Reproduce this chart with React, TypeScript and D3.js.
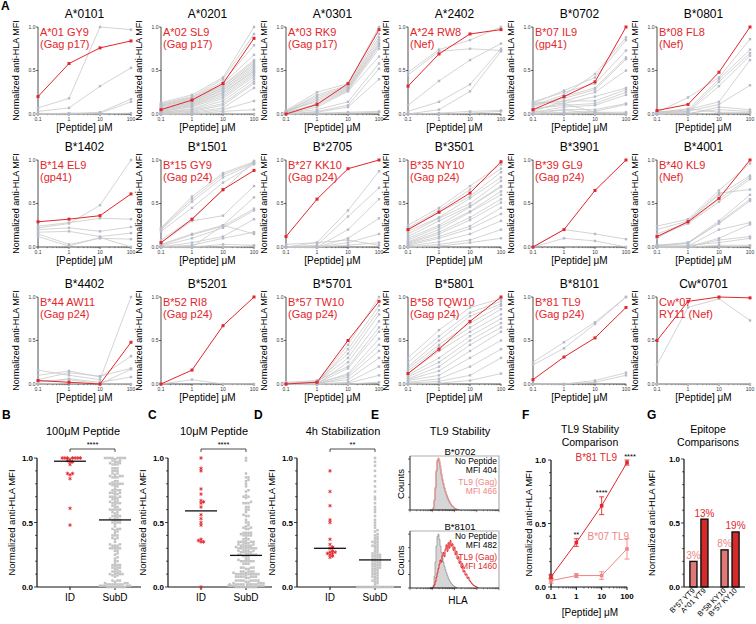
import React from "react";
import * as d3 from "d3";

const FONT = "'Liberation Sans', Arial, Helvetica, sans-serif";
const RED = "#e3262b";
const SALMON = "#ef8585";
const GRAY_LINE = "#c9c9c9";
const GRAY_PT = "#b5bac9";

// ---------- Panel A data ----------
const CONC = [0.1, 1, 10, 100];
const alleles = ["A*0101", "A*0201", "A*0301", "A*2402", "B*0702", "B*0801",
  "B*1402", "B*1501", "B*2705", "B*3501", "B*3901", "B*4001",
  "B*4402", "B*5201", "B*5701", "B*5801", "B*8101", "Cw*0701"];
const epitopeLine1 = ["A*01 GY9", "A*02 SL9", "A*03 RK9", "A*24 RW8", "B*07 IL9", "B*08 FL8",
  "B*14 EL9", "B*15 GY9", "B*27 KK10", "B*35 NY10", "B*39 GL9", "B*40 KL9",
  "B*44 AW11", "B*52 RI8", "B*57 TW10", "B*58 TQW10", "B*81 TL9", "Cw*07"];
const epitopeLine2 = ["(Gag p17)", "(Gag p17)", "(Gag p17)", "(Nef)", "(gp41)", "(Nef)",
  "(gp41)", "(Gag p24)", "(Gag p24)", "(Gag p24)", "(Gag p24)", "(Nef)",
  "(Gag p24)", "(Gag p24)", "(Gag p24)", "(Gag p24)", "(Gag p24)", "RY11 (Nef)"];
const redSeries = [
  [0.20, 0.58, 0.76, 0.84],
  [0.05, 0.16, 0.35, 0.87],
  [0.00, 0.11, 0.35, 0.97],
  [0.32, 0.69, 0.92, 0.97],
  [0.05, 0.20, 0.37, 1.00],
  [0.04, 0.11, 0.48, 1.00],
  [0.29, 0.32, 0.36, 0.61],
  [0.05, 0.32, 0.66, 0.88],
  [0.12, 0.55, 0.90, 1.00],
  [0.20, 0.40, 0.62, 0.98],
  [0.00, 0.20, 0.65, 1.00],
  [0.12, 0.29, 0.56, 1.00],
  [0.04, 0.02, 0.00, 0.48],
  [0.00, 0.16, 0.67, 1.00],
  [0.00, 0.02, 0.50, 0.95],
  [0.12, 0.40, 0.72, 1.00],
  [0.05, 0.31, 0.53, 0.88],
  [0.50, 0.95, 1.00, 0.99],
];
const graySeries: number[][][] = [
  [[0.07, 0.18, 1.0, 0.97], [0.03, 0.07, 0.32, 0.53], [0.0, 0.0, 0.02, 0.17], [0.0, 0.01, 0.01, 0.14], [0.0, 0.0, 0.0, 0.01]],
  [[0.13, 0.22, 0.42, 1.0], [0.12, 0.2, 0.4, 0.92], [0.11, 0.19, 0.37, 0.79], [0.1, 0.18, 0.35, 0.68], [0.1, 0.17, 0.33, 0.62],
   [0.09, 0.16, 0.32, 0.6], [0.08, 0.15, 0.3, 0.58], [0.07, 0.14, 0.3, 0.56], [0.06, 0.13, 0.28, 0.54], [0.05, 0.12, 0.27, 0.52],
   [0.05, 0.11, 0.25, 0.5], [0.04, 0.1, 0.24, 0.49], [0.03, 0.09, 0.22, 0.47], [0.03, 0.08, 0.2, 0.45], [0.02, 0.06, 0.18, 0.43],
   [0.02, 0.05, 0.15, 0.4], [0.01, 0.04, 0.12, 0.37], [0.01, 0.03, 0.1, 0.35], [0.0, 0.02, 0.07, 0.3], [0.0, 0.01, 0.05, 0.15],
   [0.0, 0.0, 0.03, 0.05], [0.0, 0.0, 0.01, 0.0]],
  [[0.04, 0.25, 0.35, 1.0], [0.03, 0.22, 0.33, 0.92], [0.03, 0.2, 0.32, 0.88], [0.02, 0.18, 0.31, 0.85], [0.02, 0.16, 0.3, 0.82],
   [0.04, 0.14, 0.29, 0.8], [0.01, 0.12, 0.28, 0.78], [0.02, 0.1, 0.27, 0.75], [0.0, 0.08, 0.26, 0.66], [0.01, 0.05, 0.14, 0.58],
   [0.0, 0.03, 0.1, 0.52], [0.0, 0.02, 0.08, 0.4], [0.0, 0.01, 0.02, 0.03], [0.0, 0.0, 0.01, 0.02]],
  [[0.48, 0.74, 0.85, 1.0], [0.45, 0.72, 0.75, 0.73], [0.1, 0.38, 0.62, 0.81], [0.03, 0.14, 0.34, 0.75], [0.0, 0.05, 0.26, 0.72],
   [0.0, 0.01, 0.03, 0.04], [0.0, 0.0, 0.01, 0.03]],
  [[0.1, 0.22, 0.46, 0.88], [0.12, 0.27, 0.42, 0.85], [0.14, 0.25, 0.35, 0.73], [0.08, 0.2, 0.3, 0.65], [0.1, 0.18, 0.28, 0.63],
   [0.12, 0.15, 0.25, 0.5], [0.05, 0.12, 0.2, 0.3], [0.03, 0.15, 0.15, 0.28], [0.06, 0.1, 0.12, 0.25], [0.02, 0.08, 0.1, 0.22],
   [0.0, 0.05, 0.05, 0.12], [0.01, 0.02, 0.03, 0.11], [0.0, 0.01, 0.02, 0.02], [0.0, 0.0, 0.01, 0.01], [0.14, 0.12, 0.02, 0.0],
   [0.02, 0.05, 0.0, 0.0]],
  [[0.02, 0.19, 0.42, 0.86], [0.02, 0.05, 0.4, 0.74], [0.01, 0.03, 0.37, 0.7], [0.0, 0.02, 0.32, 0.67], [0.01, 0.05, 0.14, 0.62],
   [0.02, 0.03, 0.11, 0.33], [0.03, 0.0, 0.08, 0.05], [0.0, 0.01, 0.05, 0.03], [0.02, 0.06, 0.02, 0.02], [0.0, 0.0, 0.01, 0.01]],
  [[0.22, 0.27, 0.48, 1.0], [0.24, 0.28, 0.33, 0.32], [0.2, 0.22, 0.18, 0.23], [0.17, 0.18, 0.12, 0.16], [0.15, 0.03, 0.1, 0.09],
   [0.12, 0.01, 0.11, 0.0]],
  [[0.22, 0.58, 0.85, 0.98], [0.21, 0.55, 0.83, 0.97], [0.2, 0.52, 0.8, 0.96], [0.18, 0.45, 0.74, 0.95], [0.08, 0.32, 0.65, 0.99],
   [0.05, 0.3, 0.36, 0.7], [0.03, 0.15, 0.25, 0.57], [0.02, 0.14, 0.24, 0.44], [0.01, 0.1, 0.22, 0.42], [0.0, 0.05, 0.12, 0.32],
   [0.0, 0.02, 0.1, 0.17], [0.01, 0.0, 0.25, 0.15], [0.0, 0.0, 0.03, 0.02], [0.0, 0.0, 0.0, 0.01]],
  [[0.0, 0.05, 0.42, 0.87], [0.0, 0.02, 0.35, 0.68], [0.0, 0.0, 0.2, 0.55], [0.0, 0.0, 0.1, 0.33], [0.0, 0.0, 0.05, 0.15],
   [0.0, 0.0, 0.02, 0.05], [0.03, 0.05, 0.08, 0.02]],
  [[0.25, 0.45, 0.7, 0.95], [0.22, 0.42, 0.66, 0.9], [0.2, 0.4, 0.58, 0.86], [0.18, 0.34, 0.56, 0.8], [0.15, 0.33, 0.5, 0.76],
   [0.12, 0.3, 0.47, 0.7], [0.1, 0.25, 0.46, 0.69], [0.08, 0.23, 0.41, 0.64], [0.06, 0.2, 0.4, 0.6], [0.05, 0.17, 0.34, 0.55],
   [0.04, 0.15, 0.31, 0.51], [0.03, 0.12, 0.24, 0.45], [0.02, 0.1, 0.21, 0.38], [0.01, 0.06, 0.15, 0.3], [0.0, 0.03, 0.08, 0.2],
   [0.0, 0.01, 0.05, 0.1]],
  [[0.0, 0.2, 0.15, 0.09], [0.0, 0.1, 0.07, 0.0]],
  [[0.24, 0.32, 0.65, 0.96], [0.2, 0.3, 0.6, 0.82], [0.15, 0.28, 0.55, 0.8], [0.12, 0.27, 0.52, 0.78], [0.1, 0.3, 0.62, 0.66],
   [0.02, 0.05, 0.3, 0.6], [0.02, 0.04, 0.28, 0.55], [0.01, 0.05, 0.27, 0.53], [0.0, 0.01, 0.2, 0.28], [0.0, 0.0, 0.1, 0.26],
   [0.0, 0.0, 0.08, 0.12], [0.02, 0.02, 0.05, 0.1], [0.0, 0.0, 0.02, 0.02], [0.0, 0.0, 0.0, 0.01]],
  [[0.16, 0.1, 0.05, 1.0], [0.1, 0.15, 0.08, 0.32], [0.05, 0.13, 0.09, 0.18], [0.03, 0.05, 0.0, 0.17], [0.02, 0.06, 0.02, 0.08],
   [0.0, 0.01, 0.0, 0.0]],
  [[0.0, 0.05, 0.0, 0.0]],
  [[0.0, 0.02, 0.45, 1.0], [0.0, 0.01, 0.4, 0.9], [0.01, 0.03, 0.35, 0.85], [0.0, 0.02, 0.3, 0.8], [0.0, 0.0, 0.25, 0.72],
   [0.02, 0.04, 0.2, 0.65], [0.0, 0.01, 0.18, 0.6], [0.0, 0.0, 0.12, 0.52], [0.01, 0.02, 0.1, 0.45], [0.0, 0.0, 0.08, 0.38],
   [0.0, 0.01, 0.05, 0.3], [0.0, 0.0, 0.02, 0.2], [0.0, 0.0, 0.01, 0.1], [0.0, 0.0, 0.0, 0.02]],
  [[0.3, 0.62, 0.88, 0.98], [0.25, 0.55, 0.82, 0.95], [0.2, 0.5, 0.78, 0.92], [0.18, 0.45, 0.7, 0.9], [0.15, 0.42, 0.65, 0.86],
   [0.12, 0.38, 0.6, 0.8], [0.1, 0.3, 0.55, 0.75], [0.08, 0.25, 0.5, 0.7], [0.06, 0.2, 0.45, 0.65], [0.05, 0.15, 0.38, 0.6],
   [0.04, 0.1, 0.3, 0.5], [0.02, 0.06, 0.2, 0.4], [0.01, 0.03, 0.1, 0.3], [0.0, 0.01, 0.04, 0.12]],
  [[0.25, 0.48, 0.71, 1.0], [0.22, 0.41, 0.69, 1.0], [0.0, 0.0, 0.04, 0.13], [0.0, 0.0, 0.02, 0.1]],
  [[0.22, 0.88, 0.98, 0.73], [0.0, 0.0, 0.0, 0.0]],
];

// ---------- Panel D data ----------
const stabID = [0.9, 0.74, 0.63, 0.52, 0.5, 0.37, 0.33, 0.31, 0.3, 0.28, 0.27, 0.27, 0.26, 0.26, 0.25, 0.24, 0.23];
const stabSubD = [
  0, 0, 0, 0, 0, 0, 0, 0, 0, 0, 0, 0, 0, 0, 0, 0, 0, 0,
  0.02, 0.03, 0.04, 0.05, 0.05, 0.06, 0.07, 0.08, 0.08, 0.09, 0.1, 0.1,
  0.11, 0.12, 0.12, 0.13, 0.14, 0.14, 0.15, 0.15, 0.16, 0.16, 0.17, 0.17, 0.18, 0.18, 0.19, 0.19, 0.2, 0.2,
  0.21, 0.21, 0.22, 0.22, 0.23, 0.23, 0.24, 0.24, 0.25, 0.25, 0.26, 0.26, 0.27, 0.28, 0.29, 0.3,
  0.31, 0.32, 0.32, 0.33, 0.34, 0.35, 0.35, 0.36, 0.37, 0.38, 0.39, 0.4,
  0.41, 0.43, 0.44, 0.46, 0.48, 0.5, 0.52, 0.55, 0.58, 0.6,
  0.62, 0.65, 0.68, 0.7, 0.74, 0.78, 0.82, 0.86, 0.9, 0.94, 0.97, 1.0];

// ---------- Panel E data (histogram counts per bin) ----------
const histNo0702 = [0, 0, 0, 5, 20, 45, 75, 95, 100, 92, 80, 68, 58, 50, 42, 35, 29, 24, 19, 15, 12, 9, 7, 5, 3, 2, 1, 0];
const histTL0702 = [0, 0, 0, 4, 18, 42, 78, 98, 102, 97, 86, 72, 61, 52, 44, 37, 31, 26, 21, 17, 13, 10, 8, 6, 4, 3, 2, 1, 1, 0];
const histNo8101 = [0, 0, 0, 5, 22, 48, 78, 96, 100, 90, 78, 66, 56, 48, 40, 34, 28, 23, 18, 14, 11, 8, 6, 4, 3, 2, 1, 0];
const histTL8101 = [0, 0, 0, 2, 6, 12, 20, 28, 36, 44, 52, 48, 60, 66, 58, 72, 80, 68, 84, 74, 88, 78, 82, 70, 76, 62, 68, 54, 58, 46,
  50, 38, 40, 30, 32, 24, 26, 18, 20, 14, 12, 9, 7, 5, 4, 3, 2, 1, 0];

// ---------- Panel F data ----------
const f81Mean = [0.08, 0.35, 0.64, 0.98];
const f81Err = [0.015, 0.03, 0.07, 0.02];
const f07Mean = [0.05, 0.09, 0.09, 0.30];
const f07Err = [0.02, 0.015, 0.03, 0.08];
const fSig = ["", "**", "****", "****"];

// ---------- Panel G data ----------
const gLabels = ["B*57 YT9", "A*01 YT9", "B*58 KY10", "B*57 KY10"];
const gGroups = ["YT9", "YT9", "KY10", "KY10"];
const gValues = [0.2, 0.53, 0.29, 0.43];
const gPct = ["3%", "13%", "8%", "19%"];
const gKind = [0, 1, 0, 1];

// ---------- layout ----------
const COL_X = [38, 161, 286, 408, 533, 657];
const ROW_Y = [27, 160, 297];
const PW = 93, PH = 87;
const MINOR_LOG: number[] = [];
[0.1, 1, 10].forEach((d) => { for (let m = 2; m <= 9; m++) MINOR_LOG.push(d * m); });

function Mini({ i }: { i: number }) {
  const col = i % 6, row = Math.floor(i / 6);
  const x0 = COL_X[col], y0 = ROW_Y[row];
  const x = d3.scaleLog().domain([0.1, 100]).range([x0, x0 + PW]);
  const y = d3.scaleLinear().domain([0, 1]).range([y0 + PH, y0]);
  const line = d3.line<number>().x((_, k) => x(CONC[k])).y((v) => y(v));
  const yb = y0 + PH;
  return (
    <g>
      <text x={x0 + PW / 2} y={y0 - 9} textAnchor="middle" fontSize={12}>{alleles[i]}</text>
      <text transform={`translate(${x0 - 19},${y0 + PH / 2}) rotate(-90)`} textAnchor="middle" fontSize={9}>Normalized anti-HLA MFI</text>
      <text x={x0 + PW / 2} y={yb + 17} textAnchor="middle" fontSize={10}>[Peptide] μM</text>
      <line x1={x0} x2={x0} y1={y0} y2={yb} stroke="#222" strokeWidth={0.8} />
      <line x1={x0} x2={x0 + PW} y1={yb} y2={yb} stroke="#222" strokeWidth={0.8} />
      {[0, 0.5, 1].map((t) => (
        <g key={t}>
          <line x1={x0 - 2} x2={x0} y1={y(t)} y2={y(t)} stroke="#222" strokeWidth={0.7} />
          <text x={x0 - 2.5} y={y(t) + 1.7} textAnchor="end" fontSize={5} fill="#333">{t.toFixed(1)}</text>
        </g>
      ))}
      {CONC.map((c) => (
        <g key={c}>
          <line x1={x(c)} x2={x(c)} y1={yb} y2={yb + 2} stroke="#222" strokeWidth={0.7} />
          <text x={x(c)} y={yb + 7} textAnchor="middle" fontSize={5} fill="#333">{String(c)}</text>
        </g>
      ))}
      {MINOR_LOG.map((c) => (
        <line key={c} x1={x(c)} x2={x(c)} y1={yb} y2={yb + 1.2} stroke="#222" strokeWidth={0.5} />
      ))}
      {graySeries[i].map((s, k) => (
        <path key={"gl" + k} d={line(s) || ""} fill="none" stroke={GRAY_LINE} strokeWidth={0.8} />
      ))}
      {graySeries[i].map((s, k) => s.map((v, j) => (
        <rect key={"gp" + k + "-" + j} x={x(CONC[j]) - 1.2} y={y(v) - 1.2} width={2.4} height={2.4} fill={GRAY_PT} />
      )))}
      <path d={line(redSeries[i]) || ""} fill="none" stroke={RED} strokeWidth={1} />
      {redSeries[i].map((v, j) => (
        <rect key={"rp" + j} x={x(CONC[j]) - 1.5} y={y(v) - 1.5} width={3} height={3} fill={RED} />
      ))}
      <text x={x0 + 2} y={y0 + 8.5} fontSize={11} fill={RED}>{epitopeLine1[i]}</text>
      <text x={x0 + 2} y={y0 + 21} fontSize={11} fill={RED}>{epitopeLine2[i]}</text>
    </g>
  );
}

// beeswarm layout (pixel offsets only)
function swarm(vals: number[], y: (v: number) => number, d: number, maxW: number) {
  const order = d3.range(vals.length).sort((a, b) => vals[a] - vals[b]);
  const placed: [number, number][] = [];
  const out: [number, number][] = new Array(vals.length);
  const nMax = Math.floor(maxW / d) * 2 + 1;
  for (const i of order) {
    const py = y(vals[i]);
    let px = 0, found = false;
    for (let k = 0; k < nMax; k++) {
      const cand = (k % 2 === 1 ? 1 : -1) * Math.ceil(k / 2) * d;
      if (!placed.some((p) => Math.abs(p[0] - cand) < d * 0.95 && Math.abs(p[1] - py) < d * 0.95)) {
        px = cand; found = true; break;
      }
    }
    if (!found) {
      const near = placed.filter((p) => Math.abs(p[1] - py) < d).length;
      const k = near % nMax;
      px = (k % 2 === 1 ? 1 : -1) * Math.ceil(k / 2) * d + d / 2;
    }
    placed.push([px, py]);
    out[i] = [px, py];
  }
  return out;
}

const yBot = d3.scaleLinear().domain([0, 1]).range([587, 458]);
const asterisk = d3.symbol().type(d3.symbolAsterisk).size(9)() || "";

function DotPanel({ ax, title, idVals, subVals, sig }: { ax: number; title: string; idVals: number[]; subVals: number[]; sig: string }) {
  const y = yBot;
  const idX = ax + 33, subX = ax + 78, endX = ax + 104;
  const idPos = swarm(idVals, y, 2.6, 16);
  const subPos = swarm(subVals, y, 2.5, 18);
  const idMed = d3.median(idVals) as number;
  const subMed = d3.median(subVals) as number;
  const minor = d3.range(0, 1.0001, 0.1);
  return (
    <g>
      <text x={ax + 46} y={435} textAnchor="middle" fontSize={11}>{title}</text>
      <text transform={`translate(${ax - 22},${(y(0) + y(1)) / 2}) rotate(-90)`} textAnchor="middle" fontSize={9.5}>Normalized anti-HLA MFI</text>
      <line x1={ax} x2={ax} y1={y(1)} y2={y(0)} stroke="#111" strokeWidth={1.2} />
      <line x1={ax} x2={endX} y1={y(0)} y2={y(0)} stroke="#111" strokeWidth={1.2} />
      {minor.map((t, k) => (
        <line key={k} x1={ax - (k % 5 === 0 ? 3 : 1.8)} x2={ax} y1={y(t)} y2={y(t)} stroke="#111" strokeWidth={0.8} />
      ))}
      {[0, 0.5, 1].map((t) => (
        <text key={t} x={ax - 4} y={y(t) + 3} textAnchor="end" fontSize={8} fontWeight="bold">{t.toFixed(1)}</text>
      ))}
      {[idX, subX].map((cx) => (
        <line key={cx} x1={cx} x2={cx} y1={y(0)} y2={y(0) + 3} stroke="#111" strokeWidth={1} />
      ))}
      <text x={idX} y={601} textAnchor="middle" fontSize={10}>ID</text>
      <text x={subX} y={601} textAnchor="middle" fontSize={10}>SubD</text>
      {subPos.map((p, k) => (
        <rect key={"s" + k} x={subX + p[0] - 1.25} y={p[1] - 1.25} width={2.5} height={2.5} fill="#c3c3c3" />
      ))}
      {idPos.map((p, k) => (
        <path key={"i" + k} d={asterisk} transform={`translate(${idX + p[0]},${p[1]})`} stroke={RED} strokeWidth={0.9} fill="none" />
      ))}
      <line x1={idX - 16} x2={idX + 16} y1={y(idMed)} y2={y(idMed)} stroke="#111" strokeWidth={1.3} />
      <line x1={subX - 16} x2={subX + 16} y1={y(subMed)} y2={y(subMed)} stroke="#111" strokeWidth={1.3} />
      <path d={`M${idX},452V449H${subX}V452`} fill="none" stroke="#222" strokeWidth={0.8} />
      <text x={(idX + subX) / 2} y={447} textAnchor="middle" fontSize={7.5}>{sig}</text>
    </g>
  );
}

function Hist({ top, bottom, label, noHist, tlHist, tlColor, mfiNo, mfiTl }:
  { top: number; bottom: number; label: string; noHist: number[]; tlHist: number[]; tlColor: string; mfiNo: string; mfiTl: string }) {
  const left = 410, right = 499;
  const x = d3.scaleLinear().domain([0, 50]).range([430, 480]);
  const y = d3.scaleLinear().domain([0, 104]).range([bottom, top + 1]);
  const area = d3.area<number>().x((_, k) => x(k)).y0(bottom).y1((v) => y(v)).curve(d3.curveStepAfter);
  const line = d3.line<number>().x((_, k) => x(k)).y((v) => y(v)).curve(d3.curveStepAfter);
  const xl = d3.scaleLog().domain([10, 1e5]).range([left, right]);
  const ticks: number[] = [];
  [10, 100, 1000, 10000].forEach((d) => { for (let m = 1; m <= 9; m++) ticks.push(d * m); });
  ticks.push(1e5);
  return (
    <g>
      <text x={460} y={top - 1} textAnchor="middle" fontSize={9.5}>{label}</text>
      <path d={`M${left},${top}H${right}V${bottom}`} fill="none" stroke="#b0b0b0" strokeWidth={1.2} />
      <path d={area(noHist) || ""} fill="#d6d6d6" stroke="#8a8a8a" strokeWidth={0.7} />
      <path d={line(tlHist) || ""} fill="none" stroke={tlColor} strokeWidth={1} />
      <line x1={left} x2={left} y1={top} y2={bottom} stroke="#111" strokeWidth={0.9} />
      <line x1={left} x2={right} y1={bottom} y2={bottom} stroke="#111" strokeWidth={0.9} />
      {[0, 25, 50, 75, 100].map((c) => (
        <line key={c} x1={left - 2} x2={left} y1={y(c)} y2={y(c)} stroke="#111" strokeWidth={0.6} />
      ))}
      {ticks.map((t, k) => (
        <line key={k} x1={xl(t)} x2={xl(t)} y1={bottom} y2={bottom + ([10, 100, 1000, 10000, 1e5].includes(t) ? 2.2 : 1.2)} stroke="#111" strokeWidth={0.5} />
      ))}
      <text transform={`translate(${404},${(top + bottom) / 2 + 1}) rotate(-90)`} textAnchor="middle" fontSize={9.5}>Counts</text>
      <text x={497} y={top + 8} textAnchor="end" fontSize={8.5}>No Peptide</text>
      <text x={497} y={top + 17} textAnchor="end" fontSize={8.5}>{mfiNo}</text>
      <text x={497} y={top + 29} textAnchor="end" fontSize={8.5} fill={tlColor}>TL9 (Gag)</text>
      <text x={497} y={top + 38} textAnchor="end" fontSize={8.5} fill={tlColor}>{mfiTl}</text>
    </g>
  );
}

function PanelF() {
  const x = d3.scaleLog().domain([0.1, 100]).range([551, 627]);
  const y = d3.scaleLinear().domain([0, 1]).range([587, 460]);
  const line = d3.line<number>().x((_, k) => x(CONC[k])).y((v) => y(v));
  const series = [
    { mean: f07Mean, err: f07Err, color: SALMON },
    { mean: f81Mean, err: f81Err, color: RED },
  ];
  return (
    <g>
      <text x={590} y={433} textAnchor="middle" fontSize={10.5}>TL9 Stability</text>
      <text x={590} y={446} textAnchor="middle" fontSize={10.5}>Comparison</text>
      <text transform={`translate(${532},${(y(0) + y(1)) / 2}) rotate(-90)`} textAnchor="middle" fontSize={9.5}>Normalized anti-HLA MFI</text>
      <line x1={551} x2={551} y1={y(1)} y2={y(0)} stroke="#111" strokeWidth={1.2} />
      <line x1={551} x2={627} y1={y(0)} y2={y(0)} stroke="#111" strokeWidth={1.2} />
      {d3.range(0, 1.0001, 0.1).map((t, k) => (
        <line key={k} x1={551 - (k % 5 === 0 ? 3 : 1.8)} x2={551} y1={y(t)} y2={y(t)} stroke="#111" strokeWidth={0.8} />
      ))}
      {[0, 0.5, 1].map((t) => (
        <text key={t} x={546} y={y(t) + 3} textAnchor="end" fontSize={8} fontWeight="bold">{t.toFixed(1)}</text>
      ))}
      {CONC.map((c) => (
        <g key={c}>
          <line x1={x(c)} x2={x(c)} y1={y(0)} y2={y(0) + 3} stroke="#111" strokeWidth={1} />
          <text x={x(c)} y={599} textAnchor="middle" fontSize={8} fontWeight="bold">{String(c)}</text>
        </g>
      ))}
      {MINOR_LOG.map((c) => (
        <line key={c} x1={x(c)} x2={x(c)} y1={y(0)} y2={y(0) + 1.6} stroke="#111" strokeWidth={0.6} />
      ))}
      <text x={590} y={616} textAnchor="middle" fontSize={10}>[Peptide] μM</text>
      {series.map((s, si) => (
        <g key={si}>
          <path d={line(s.mean) || ""} fill="none" stroke={s.color} strokeWidth={1} />
          {s.mean.map((m, k) => (
            <g key={k}>
              <path d={`M${x(CONC[k])},${y(m - s.err[k])}V${y(m + s.err[k])}M${x(CONC[k]) - 2.5},${y(m - s.err[k])}h5M${x(CONC[k]) - 2.5},${y(m + s.err[k])}h5`}
                stroke={s.color} strokeWidth={0.9} fill="none" />
              <rect x={x(CONC[k]) - 1.8} y={y(m) - 1.8} width={3.6} height={3.6} fill={s.color} />
            </g>
          ))}
        </g>
      ))}
      {f81Mean.map((m, k) => (
        <text key={k} x={x(CONC[k]) + (k === 3 ? 3 : 0)} y={y(m + f81Err[k]) - 1.5} textAnchor="middle" fontSize={7.5}>{fSig[k]}</text>
      ))}
      <text x={617} y={461} textAnchor="end" fontSize={10} fill={RED}>B*81 TL9</text>
      <text x={629} y={540} textAnchor="end" fontSize={10} fill={SALMON}>B*07 TL9</text>
    </g>
  );
}

function PanelG() {
  const ax = 684;
  const y = d3.scaleLinear().domain([0, 1]).range([587, 459]);
  const outer = d3.scaleBand().domain(["YT9", "KY10"]).range([ax, 745]).paddingInner(0.42).paddingOuter(0.19);
  const inner = d3.scaleBand<number>().domain([0, 1]).range([0, outer.bandwidth()]).paddingInner(0.36);
  const bx = (k: number) => (outer(gGroups[k]) as number) + (inner(k % 2) as number);
  const bw = inner.bandwidth();
  return (
    <g>
      <text x={708} y={433} textAnchor="middle" fontSize={10.5}>Epitope</text>
      <text x={708} y={446} textAnchor="middle" fontSize={10.5}>Comparisons</text>
      <text transform={`translate(${655},${(y(0) + y(1)) / 2}) rotate(-90)`} textAnchor="middle" fontSize={9.5}>Normalized anti-HLA MFI</text>
      {gValues.map((v, k) => (
        <g key={k}>
          <rect x={bx(k)} y={y(v)} width={bw} height={y(0) - y(v)} fill={gKind[k] ? "#d42a2a" : "#e07878"} stroke="#111" strokeWidth={1.4} />
          <text x={bx(k) + bw / 2} y={y(v) - 2.5} textAnchor="middle" fontSize={10} fill={gKind[k] ? RED : SALMON}>{gPct[k]}</text>
          <text transform={`translate(${bx(k) + bw / 2 + 2},${y(0) + 4}) rotate(-45)`} textAnchor="end" fontSize={7.5}>{gLabels[k]}</text>
        </g>
      ))}
      <line x1={ax} x2={ax} y1={y(1)} y2={y(0)} stroke="#111" strokeWidth={1.2} />
      <line x1={ax} x2={745} y1={y(0)} y2={y(0)} stroke="#111" strokeWidth={1.2} />
      {d3.range(0, 1.0001, 0.1).map((t, k) => (
        <line key={k} x1={ax - (k % 5 === 0 ? 3 : 1.8)} x2={ax} y1={y(t)} y2={y(t)} stroke="#111" strokeWidth={0.8} />
      ))}
      {[0, 0.5, 1].map((t) => (
        <text key={t} x={ax - 4} y={y(t) + 3} textAnchor="end" fontSize={8} fontWeight="bold">{t.toFixed(1)}</text>
      ))}
    </g>
  );
}

export default function App() {
  const id100 = redSeries.map((s) => s[3]);
  const sub100 = graySeries.flatMap((g) => g.map((s) => s[3]));
  const id10 = redSeries.map((s) => s[2]);
  const sub10 = graySeries.flatMap((g) => g.map((s) => s[2]));
  const letters: [string, number][] = [["B", 2], ["C", 148], ["D", 254], ["E", 371], ["F", 522], ["G", 647]];
  return (
    <svg width={756} height={624} style={{ position: "absolute", left: 0, top: 0 }} fontFamily={FONT}>
      <rect width={756} height={624} fill="#fff" />
      <text x={1} y={10} fontSize={12} fontWeight="bold">A</text>
      {alleles.map((_, i) => <Mini key={i} i={i} />)}
      {letters.map(([l, lx]) => (
        <text key={l} x={lx} y={419} fontSize={12} fontWeight="bold">{l}</text>
      ))}
      <DotPanel ax={37} title="100μM Peptide" idVals={id100} subVals={sub100} sig="****" />
      <DotPanel ax={168} title="10μM Peptide" idVals={id10} subVals={sub10} sig="****" />
      <DotPanel ax={297} title="4h Stabilization" idVals={stabID} subVals={stabSubD} sig="**" />
      <text x={460} y={435} textAnchor="middle" fontSize={11}>TL9 Stability</text>
      <Hist top={456} bottom={510} label="B*0702" noHist={histNo0702} tlHist={histTL0702} tlColor={SALMON} mfiNo="MFI 404" mfiTl="MFI 466" />
      <Hist top={531} bottom={588} label="B*8101" noHist={histNo8101} tlHist={histTL8101} tlColor={RED} mfiNo="MFI 482" mfiTl="MFI 1460" />
      <text x={458} y={604} textAnchor="middle" fontSize={10}>HLA</text>
      <PanelF />
      <PanelG />
    </svg>
  );
}
